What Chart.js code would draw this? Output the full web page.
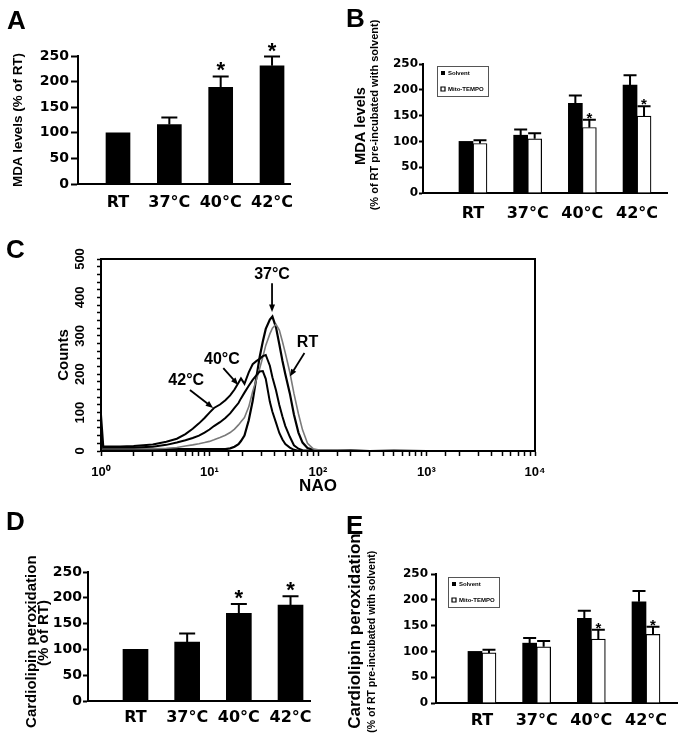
<!DOCTYPE html>
<html>
<head>
<meta charset="utf-8">
<script src="https://cdn.jsdelivr.net/npm/chart.js@4.4.1/dist/chart.umd.min.js"></script>
<style>
    body { margin: 0; background: #fff; }
    #figure { position: relative; width: 683px; height: 741px; overflow: hidden; background: #fff; }
    #figure canvas { position: absolute; }
    .panel-tag { position: absolute; font: bold 26px 'Liberation Sans', Arial, sans-serif; line-height: 26px; color: #000; }
</style>
</head>
<body>
<div id="figure">
    <canvas id="chartA" width="330" height="225" style="left:0px;top:0px"></canvas>
    <canvas id="chartB" width="353" height="225" style="left:330px;top:0px"></canvas>
    <canvas id="chartC" width="683" height="285" style="left:0px;top:220px"></canvas>
    <canvas id="chartD" width="330" height="241" style="left:0px;top:500px"></canvas>
    <canvas id="chartE" width="353" height="241" style="left:330px;top:500px"></canvas>
    <div class="panel-tag" style="left:7px;top:7px">A</div>
    <div class="panel-tag" style="left:346px;top:5px">B</div>
    <div class="panel-tag" style="left:6px;top:236px">C</div>
    <div class="panel-tag" style="left:6px;top:508px">D</div>
    <div class="panel-tag" style="left:346px;top:512px">E</div>
</div>
<script>
// Data
const categories = ['RT', '37°C', '40°C', '42°C'];

// A - MDA levels (% of RT)
const mdaMean = [100, 116, 189, 231];
const mdaSd = [0, 14, 21, 18];
const mdaSig = [false, false, true, true];

// B - MDA levels, solvent vs Mito-TEMPO
const mdaSolvent = [100, 112, 174, 209];
const mdaSolventSd = [0, 11, 15, 19];
const mdaMito = [96, 105, 127, 149];
const mdaMitoSd = [6, 11, 15, 19];
const mdaMitoSig = [false, false, true, true];

// C - NAO fluorescence histograms
const naoChannels = [1, 1.05, 1.5, 2, 3, 4, 5, 6, 7, 8, 9, 10, 11, 12.5, 14, 15.5, 17, 18.5, 19.5, 21,
    23, 25, 27, 29, 31, 33, 36, 38, 41, 44, 47, 50, 55, 60, 66, 72, 80, 90, 100, 150, 200, 300, 500, 1000, 10000];
const counts42 = [95, 12, 12, 13, 17, 24, 32, 44, 58, 72, 86, 100, 112, 121, 132, 145, 160, 178, 189, 175,
    205, 226, 234, 240, 247, 250, 222, 192, 158, 120, 90, 65, 37, 15, 6, 2, 1, 0, 0, 0, 0, 0, 0, 0, 0];
const counts40 = [40, 9, 9, 9, 11, 16, 22, 28, 34, 40, 48, 56, 65, 75, 86, 98, 112, 125, 137, 152,
    170, 185, 197, 207, 208, 188, 128, 102, 74, 47, 30, 18, 9, 3, 1, 0, 0, 0, 0, 0, 0, 0, 0, 0, 0];
const countsRT = [30, 6, 6, 6, 6, 7, 9, 13, 16, 19, 22, 25, 29, 35, 41, 48, 57, 68, 76, 87,
    115, 155, 185, 215, 245, 275, 305, 320, 330, 315, 285, 255, 205, 150, 97, 55, 20, 6, 3, 2, 1, 0, 0, 0, 0];
const counts37 = [20, 5, 5, 5, 5, 5, 5, 5, 5, 5, 5, 5, 5, 5, 5, 7, 11, 18, 26, 40,
    80, 130, 190, 245, 285, 318, 342, 350, 322, 278, 235, 200, 150, 95, 48, 22, 8, 3, 2, 1, 2, 0, 1, 0, 0];

// D - Cardiolipin peroxidation (% of RT)
const clMean = [100, 114, 170, 186];
const clSd = [0, 17, 18, 17];
const clSig = [false, false, true, true];

// E - Cardiolipin peroxidation, solvent vs Mito-TEMPO
const clSolvent = [100, 116, 164, 196];
const clSolventSd = [0, 10, 15, 21];
const clMito = [97, 109, 124, 133];
const clMitoSd = [6, 11, 18, 15];
const clMitoSig = [false, false, true, true];

Chart.defaults.animation = false;
Chart.defaults.responsive = false;
Chart.defaults.color = '#000';
Chart.defaults.font.family = "'Liberation Sans', Arial, sans-serif";
Chart.defaults.plugins.tooltip.enabled = false;

const heavyFont = "'DejaVu Sans', 'Liberation Sans', sans-serif";
const narrowFont = "'Liberation Sans Narrow', 'Liberation Sans', Arial, sans-serif";

function barPoints(values) {
    return values.map((v, i) => ({ x: i, y: v }));
}

function curvePoints(counts) {
    return naoChannels.map((x, i) => ({ x: x, y: counts[i] }));
}

// Error bars (upper whisker only) + significance stars
const errorBars = {
    id: 'errorBars',
    afterDatasetsDraw(chart, args, opts) {
        const ctx = chart.ctx;
        const yScale = chart.scales.y;
        ctx.save();
        chart.data.datasets.forEach((ds, di) => {
            const meta = chart.getDatasetMeta(di);
            meta.data.forEach((bar, i) => {
                const value = ds.data[i].y;
                const sd = ds.sd ? ds.sd[i] : 0;
                let top = bar.y;
                if (sd) {
                    top = yScale.getPixelForValue(value + sd);
                    ctx.strokeStyle = '#000';
                    ctx.lineWidth = opts.lineWidth;
                    ctx.beginPath();
                    ctx.moveTo(bar.x, bar.y);
                    ctx.lineTo(bar.x, top);
                    ctx.moveTo(bar.x - opts.cap / 2, top);
                    ctx.lineTo(bar.x + opts.cap / 2, top);
                    ctx.stroke();
                }
                if (ds.sig && ds.sig[i]) {
                    ctx.fillStyle = '#000';
                    ctx.font = opts.starFont;
                    ctx.textAlign = 'center';
                    ctx.textBaseline = 'alphabetic';
                    ctx.fillText('*', bar.x, top + opts.starShift);
                }
            });
        });
        ctx.restore();
    }
};

// Rotated y axis titles (drawn without the width squeeze of scale titles)
const sideTitles = {
    id: 'sideTitles',
    afterDraw(chart, args, opts) {
        const ctx = chart.ctx;
        (opts.lines || []).forEach(line => {
            ctx.save();
            ctx.translate(line.x, line.y);
            ctx.rotate(-Math.PI / 2);
            ctx.font = line.font;
            ctx.fillStyle = '#000';
            ctx.textAlign = 'center';
            ctx.textBaseline = 'middle';
            ctx.fillText(line.text, 0, 0);
            ctx.restore();
        });
    }
};

// Framed legend sitting inside the plot
const legendFrame = {
    id: 'legendFrame',
    afterLayout(chart, args, opts) {
        const lg = chart.legend;
        if (!lg || !opts.display) return;
        lg.left = chart.chartArea.left + opts.dx;
        lg.top = chart.chartArea.top + opts.dy;
    },
    afterDraw(chart, args, opts) {
        const lg = chart.legend;
        if (!lg || !opts.display || !lg.legendHitBoxes.length) return;
        const pad = lg.options.labels.padding;
        const boxes = lg.legendHitBoxes;
        const w = Math.max(...boxes.map(b => b.width));
        const h = boxes.reduce((s, b) => s + b.height, 0) + pad * (boxes.length - 1);
        const ctx = chart.ctx;
        ctx.save();
        ctx.strokeStyle = '#555';
        ctx.lineWidth = 1;
        ctx.strokeRect(Math.round(lg.left + pad - opts.margin) + 0.5, Math.round(lg.top + pad - opts.margin) + 0.5,
            Math.round(w + 2 * opts.margin), Math.round(h + 2 * opts.margin));
        ctx.restore();
    }
};

function renderBarPanel(id, cfg) {
    const ctx = document.getElementById(id);
    const grouped = cfg.datasets.length > 1;

    return new Chart(ctx, {
        type: 'bar',
        data: { datasets: cfg.datasets },
        options: {
            layout: { padding: { top: cfg.top, right: cfg.right, left: 0, bottom: 0 } },
            plugins: {
                legend: {
                    display: grouped,
                    position: 'chartArea',
                    align: 'start',
                    labels: {
                        boxWidth: 4,
                        boxHeight: 4,
                        padding: 10,
                        color: '#000',
                        font: { size: 6, weight: 'bold' }
                    }
                },
                legendFrame: { display: grouped, dx: cfg.legendDx || 0, dy: cfg.legendDy || 0, margin: 4 },
                errorBars: { lineWidth: 2, cap: cfg.cap, starFont: cfg.starFont, starShift: cfg.starShift },
                sideTitles: { lines: cfg.titles }
            },
            scales: {
                x: {
                    type: 'linear',
                    min: cfg.xMin,
                    max: cfg.xMax,
                    offset: false,
                    grid: { display: false, drawTicks: false },
                    border: { display: true, color: '#000', width: 2 },
                    afterBuildTicks: s => { s.ticks = categories.map((c, i) => ({ value: i })); },
                    ticks: {
                        autoSkip: false,
                        maxRotation: 0,
                        padding: cfg.labelPad,
                        font: { family: heavyFont, size: 16, weight: 'bold' },
                        callback: v => categories[v]
                    },
                    afterFit: s => { s.height = cfg.xHeight; }
                },
                y: {
                    min: 0,
                    max: 250,
                    ticks: {
                        stepSize: 50,
                        padding: cfg.tickPad,
                        font: { family: heavyFont, size: cfg.tickSize, weight: 'bold' }
                    },
                    grid: { drawOnChartArea: false, drawTicks: true, tickLength: cfg.tickLength, tickWidth: 2, tickColor: '#000' },
                    border: { color: '#000', width: 2 },
                    afterFit: s => { s.width = cfg.yWidth; }
                }
            }
        },
        plugins: [errorBars, sideTitles, legendFrame]
    });
}

// Panel A
renderBarPanel('chartA', {
    datasets: [{
        label: 'MDA',
        data: barPoints(mdaMean),
        sd: mdaSd,
        sig: mdaSig,
        backgroundColor: '#000',
        borderWidth: 0,
        barThickness: 24
    }],
    top: 56, right: 40, xHeight: 41, yWidth: 78,
    xMin: -0.779, xMax: 3.35,
    labelPad: 9, tickPad: 2, tickLength: 7, tickSize: 14,
    cap: 16, starFont: 'bold 22px Liberation Sans', starShift: 1,
    titles: [{ text: 'MDA levels (% of RT)', font: 'bold 13.4px Liberation Sans', x: 18.3, y: 120 }]
});

// Panel B
renderBarPanel('chartB', {
    datasets: [
        {
            label: 'Solvent',
            data: barPoints(mdaSolvent),
            sd: mdaSolventSd,
            backgroundColor: '#000',
            borderColor: '#000',
            borderWidth: 0,
            barThickness: 14
        },
        {
            label: 'Mito-TEMPO',
            data: barPoints(mdaMito),
            sd: mdaMitoSd,
            sig: mdaMitoSig,
            backgroundColor: '#fff',
            borderColor: '#000',
            borderWidth: 1.2,
            barThickness: 14
        }
    ],
    top: 64, right: 16, xHeight: 32, yWidth: 93,
    xMin: -0.914, xMax: 3.548,
    labelPad: 11, tickPad: 1, tickLength: 4, tickSize: 12,
    cap: 13, starFont: 'bold 15px Liberation Sans', starShift: 3,
    legendDx: 8, legendDy: -4,
    titles: [
        { text: 'MDA levels', font: 'bold 14.6px Liberation Sans', x: 30.8, y: 126 },
        { text: '(% of RT pre-incubated with solvent)', font: 'bold 11px Liberation Sans', x: 45, y: 115 }
    ]
});

// Panel D
renderBarPanel('chartD', {
    datasets: [{
        label: 'Cardiolipin',
        data: barPoints(clMean),
        sd: clSd,
        sig: clSig,
        backgroundColor: '#000',
        borderWidth: 0,
        barThickness: 25
    }],
    top: 72, right: 20, xHeight: 40, yWidth: 88,
    xMin: -0.919, xMax: 3.377,
    labelPad: 7, tickPad: 1, tickLength: 5, tickSize: 14,
    cap: 16, starFont: 'bold 22px Liberation Sans', starShift: 1,
    titles: [
        { text: 'Cardiolipin peroxidation', font: 'bold 15px Liberation Sans', x: 31.5, y: 141.7 },
        { text: '(% of RT)', font: 'bold 15px Liberation Sans', x: 43.6, y: 133 }
    ]
});

// Panel E
renderBarPanel('chartE', {
    datasets: [
        {
            label: 'Solvent',
            data: barPoints(clSolvent),
            sd: clSolventSd,
            backgroundColor: '#000',
            borderColor: '#000',
            borderWidth: 0,
            barThickness: 14
        },
        {
            label: 'Mito-TEMPO',
            data: barPoints(clMito),
            sd: clMitoSd,
            sig: clMitoSig,
            backgroundColor: '#fff',
            borderColor: '#000',
            borderWidth: 1.2,
            barThickness: 14
        }
    ],
    top: 74, right: 6, xHeight: 38, yWidth: 106,
    xMin: -0.841, xMax: 3.567,
    labelPad: 8, tickPad: 3, tickLength: 5, tickSize: 12,
    cap: 13, starFont: 'bold 15px Liberation Sans', starShift: 3,
    legendDx: 6, legendDy: -3,
    titles: [
        { text: 'Cardiolipin peroxidation', font: 'bold 17px Liberation Sans', x: 25, y: 131 },
        { text: '(% of RT pre-incubated with solvent)', font: 'bold 10.5px Liberation Sans', x: 41.7, y: 141.7 }
    ]
});

// Panel C - histogram overlay
const curveLabels = [
    { text: '37°C', at: [37.7, 460], from: [37.7, 437], to: [37.7, 362] },
    { text: 'RT', at: [80, 282], from: [75, 255], to: [55, 194] },
    { text: '40°C', at: [13, 239], from: [13.4, 216], to: [18.4, 172] },
    { text: '42°C', at: [6.1, 184], from: [6.6, 159], to: [10.8, 112] }
];

const curveNotes = {
    id: 'curveNotes',
    afterDraw(chart, args, opts) {
        const ctx = chart.ctx;
        const xs = chart.scales.x;
        const ys = chart.scales.y;
        ctx.save();
        ctx.fillStyle = '#000';
        ctx.strokeStyle = '#000';
        ctx.lineWidth = 1.8;
        ctx.font = opts.font;
        ctx.textAlign = 'center';
        ctx.textBaseline = 'middle';
        opts.items.forEach(item => {
            ctx.fillText(item.text, xs.getPixelForValue(item.at[0]), ys.getPixelForValue(item.at[1]));
            const x0 = xs.getPixelForValue(item.from[0]);
            const y0 = ys.getPixelForValue(item.from[1]);
            const x1 = xs.getPixelForValue(item.to[0]);
            const y1 = ys.getPixelForValue(item.to[1]);
            const ang = Math.atan2(y1 - y0, x1 - x0);
            const head = 8;
            ctx.beginPath();
            ctx.moveTo(x0, y0);
            ctx.lineTo(x1 - Math.cos(ang) * head * 0.8, y1 - Math.sin(ang) * head * 0.8);
            ctx.stroke();
            ctx.beginPath();
            ctx.moveTo(x1, y1);
            ctx.lineTo(x1 - Math.cos(ang - 0.38) * head, y1 - Math.sin(ang - 0.38) * head);
            ctx.lineTo(x1 - Math.cos(ang + 0.38) * head, y1 - Math.sin(ang + 0.38) * head);
            ctx.closePath();
            ctx.fill();
        });
        ctx.restore();
    }
};

const plotFrame = {
    id: 'plotFrame',
    afterDraw(chart) {
        const a = chart.chartArea;
        const ctx = chart.ctx;
        ctx.save();
        ctx.strokeStyle = '#000';
        ctx.lineWidth = 2;
        ctx.strokeRect(a.left, a.top, a.right - a.left, a.bottom - a.top);
        ctx.restore();
    }
};

const superscripts = ['⁰', '¹', '²', '³', '⁴'];

new Chart(document.getElementById('chartC'), {
    type: 'line',
    data: {
        datasets: [
            { label: '42°C', data: curvePoints(counts42), borderColor: '#000', borderWidth: 2 },
            { label: '40°C', data: curvePoints(counts40), borderColor: '#000', borderWidth: 2 },
            { label: 'RT', data: curvePoints(countsRT), borderColor: '#7a7a7a', borderWidth: 1.6 },
            { label: '37°C', data: curvePoints(counts37), borderColor: '#000', borderWidth: 2.2 }
        ]
    },
    options: {
        layout: { padding: { top: 39, right: 148, left: 0, bottom: 0 } },
        elements: {
            point: { radius: 0 },
            line: { tension: 0, fill: false }
        },
        plugins: {
            legend: { display: false },
            curveNotes: { items: curveLabels, font: 'bold 16px ' + narrowFont }
        },
        scales: {
            x: {
                type: 'logarithmic',
                min: 1,
                max: 10000,
                grid: { drawOnChartArea: false, drawTicks: true, tickLength: 5, tickWidth: 1.5, tickColor: '#000' },
                border: { color: '#000', width: 2 },
                ticks: {
                    autoSkip: false,
                    maxRotation: 0,
                    padding: 9,
                    font: { family: narrowFont, size: 13, weight: 'bold' },
                    callback: function (value) {
                        const e = Math.round(Math.log10(value));
                        if (Math.abs(Math.log10(value) - e) > 1e-9) return '';
                        return '10' + superscripts[e];
                    }
                },
                title: {
                    display: true,
                    text: 'NAO',
                    font: { size: 17, weight: 'bold' },
                    padding: { top: 4, bottom: 8 }
                },
                afterFit: s => { s.height = 54; }
            },
            y: {
                min: 0,
                max: 500,
                grid: { drawOnChartArea: false, drawTicks: true, tickLength: 4, tickWidth: 1.5, tickColor: '#000' },
                border: { color: '#000', width: 2 },
                ticks: {
                    stepSize: 20,
                    autoSkip: false,
                    minRotation: 90,
                    maxRotation: 90,
                    crossAlign: 'center',
                    padding: 6,
                    font: { family: narrowFont, size: 13, weight: 'bold' },
                    callback: v => (v % 100 === 0 ? String(v) : '')
                },
                title: {
                    display: true,
                    text: 'Counts',
                    font: { family: narrowFont, size: 15, weight: 'bold' },
                    padding: { top: 55, bottom: 0 }
                },
                afterFit: s => { s.width = 101; }
            }
        }
    },
    plugins: [plotFrame, curveNotes]
});
</script>
</body>
</html>
